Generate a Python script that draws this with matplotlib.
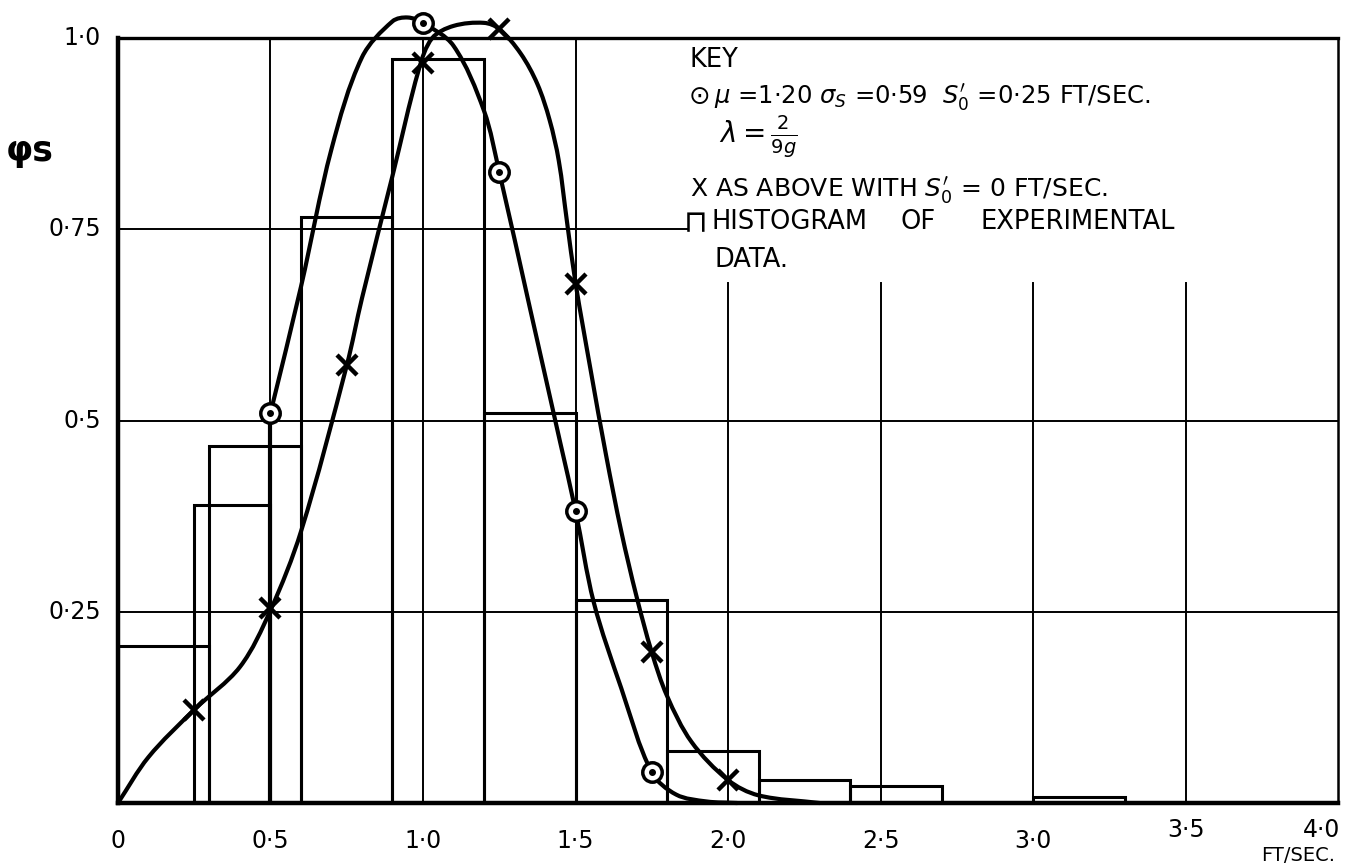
import matplotlib
matplotlib.use("Agg")
import numpy as np
import matplotlib.pyplot as plt
from matplotlib.patches import Rectangle, PathPatch
from matplotlib.path import Path

# histogram of experimental data (bin left edge, width, height)
hist_left = [0.0, 0.25, 0.3, 0.6, 0.9, 1.2, 1.5, 1.8, 2.1, 2.4, 3.0]
hist_width = [0.3, 0.25, 0.3, 0.3, 0.3, 0.3, 0.3, 0.3, 0.3, 0.3, 0.3]
hist_height = [0.205, 0.39, 0.467, 0.766, 0.973, 0.51, 0.265, 0.068, 0.03, 0.022, 0.008]

# curve with S0' = 0.25 (circles); it jumps up from zero at 0.5
circ_curve_x = [0.5, 0.6, 0.7, 0.8, 0.9, 0.95, 1.0, 1.1, 1.2, 1.25, 1.35, 1.45, 1.5,
                1.56, 1.65, 1.75, 1.83, 1.93, 2.03]
circ_curve_y = [0.51, 0.675, 0.855, 0.975, 1.022, 1.027, 1.02, 0.99, 0.905, 0.825, 0.648,
                0.471, 0.382, 0.262, 0.15, 0.04, 0.011, 0.002, 0.0]
circ_x = [0.5, 1.0, 1.25, 1.5, 1.75]
circ_y = [0.51, 1.02, 0.825, 0.382, 0.04]

# curve with S0' = 0 (crosses)
cross_curve_x = [0.0, 0.1, 0.25, 0.4, 0.5, 0.6, 0.75, 0.8, 0.9, 0.987, 1.03, 1.1, 1.2, 1.25,
                 1.32, 1.375, 1.415, 1.445, 1.472, 1.5, 1.55, 1.6, 1.65, 1.7, 1.75, 1.8,
                 1.88, 2.0, 2.1, 2.3]
cross_curve_y = [0.0, 0.06, 0.122, 0.178, 0.252, 0.355, 0.572, 0.66, 0.82, 0.96, 1.0, 1.016,
                 1.02, 1.012, 0.98, 0.94, 0.893, 0.84, 0.76, 0.68, 0.565, 0.455, 0.355, 0.27,
                 0.197, 0.14, 0.08, 0.03, 0.01, 0.0]
cross_x = [0.25, 0.5, 0.75, 1.0, 1.25, 1.5, 1.75, 2.0]
cross_y = [0.122, 0.255, 0.573, 0.967, 1.012, 0.678, 0.197, 0.03]

x_ticks = [0, 0.5, 1.0, 1.5, 2.0, 2.5, 3.0, 3.5, 4.0]
x_tick_labels = ["0", "0·5", "1·0", "1·5", "2·0", "2·5", "3·0", "3·5", "4·0"]
y_ticks = [0.25, 0.5, 0.75, 1.0]
y_tick_labels = ["0·25", "0·5", "0·75", "1·0"]


def smooth_path(xs, ys, yscale=2.5):
    # cubic bezier through the read points (chord-length tangents)
    p = np.column_stack([xs, ys]).astype(float)
    q = p * [1.0, yscale]
    d = np.hypot(*np.diff(q, axis=0).T)
    t = np.concatenate([[0], np.cumsum(d)])
    n = len(p)
    m = np.zeros_like(p)
    m[0] = (p[1] - p[0]) / (t[1] - t[0])
    m[-1] = (p[-1] - p[-2]) / (t[-1] - t[-2])
    for i in range(1, n - 1):
        m[i] = (p[i + 1] - p[i - 1]) / (t[i + 1] - t[i - 1])
    verts = [p[0]]
    codes = [Path.MOVETO]
    for i in range(n - 1):
        h = t[i + 1] - t[i]
        verts += [p[i] + m[i] * h / 3, p[i + 1] - m[i + 1] * h / 3, p[i + 1]]
        codes += [Path.CURVE4] * 3
    return Path(verts, codes)


plt.rcParams['font.family'] = ['DejaVu Sans']

fig = plt.figure(figsize=(13.48, 8.67), dpi=100)
ax = fig.add_axes([0.0875, 0.0738, 0.9052, 0.8822])
ax.set_xlim(0, 4.0)
ax.set_ylim(0, 1.0)
ax.set_xticks([])
ax.set_yticks([])
for side in ['left', 'bottom']:
    ax.spines[side].set_linewidth(3.2)
ax.spines['top'].set_linewidth(2.4)
ax.spines['right'].set_linewidth(1.8)

# grid
for gx in [0.5, 1.0, 1.5]:
    ax.plot([gx, gx], [0, 1.0], color='black', lw=1.4)
for gx in [2.0, 2.5, 3.0, 3.5]:
    ax.plot([gx, gx], [0, 0.68], color='black', lw=1.4)
for gy in [0.25, 0.5]:
    ax.plot([0, 4.0], [gy, gy], color='black', lw=1.4)
ax.plot([0, 1.87], [0.75, 0.75], color='black', lw=1.4)

# histogram
for l, w, h in zip(hist_left, hist_width, hist_height):
    ax.add_patch(Rectangle((l, 0), w, h, fill=False, ec='black', lw=2.2))

# curves
ax.plot([circ_curve_x[0], circ_curve_x[0]], [0, circ_curve_y[0]], color='black', lw=3.0)
for cx, cy in [(circ_curve_x, circ_curve_y), (cross_curve_x, cross_curve_y)]:
    ax.add_patch(PathPatch(smooth_path(cx, cy), fill=False, ec='black', lw=3.0,
                           clip_on=False, zorder=3, capstyle='round'))
ax.plot(circ_x, circ_y, 'o', ms=14, mfc='white', mec='black', mew=2.5, clip_on=False, zorder=4)
ax.plot(circ_x, circ_y, 'o', ms=4, color='black', clip_on=False, zorder=5)
ax.plot(cross_x, cross_y, 'x', ms=15, mec='black', mew=3.2, clip_on=False, zorder=4)

# tick labels
for xv, lab in zip(x_ticks, x_tick_labels):
    yy = -0.035 if xv >= 3.5 else -0.05
    xx = xv - 0.055 if xv == 4.0 else xv
    ax.text(xx, yy, lab, ha='center', va='center', fontsize=17, clip_on=False)
ax.text(3.87, -0.068, "FT/SEC.", ha='center', va='center', fontsize=14, clip_on=False)
for yv, lab in zip(y_ticks, y_tick_labels):
    ax.text(-0.055, yv, lab, ha='right', va='center', fontsize=17, clip_on=False)
ax.text(-0.29, 0.852, "φs", ha='center', va='center', fontsize=25, fontweight='bold',
        clip_on=False)

# key
fs = 18.5
ax.text(1.875, 0.971, "KEY", ha='left', va='center', fontsize=fs)
ax.text(1.87, 0.923, "⊙", ha='left', va='center', fontsize=fs)
ax.text(1.955, 0.923, r"$\mu$ =1·20 $\sigma_S$ =0·59  $S_0'$ =0·25 FT/SEC.",
        ha='left', va='center', fontsize=17.5)
ax.text(1.97, 0.872, r"$\lambda = \frac{2}{9g}$", ha='left', va='center', fontsize=20)
ax.text(1.875, 0.801, r"X AS ABOVE WITH $S_0'$ = 0 FT/SEC.", ha='left', va='center', fontsize=18)
ax.text(1.855, 0.757, "⊓", ha='left', va='center', fontsize=22)
ax.text(1.945, 0.76, "HISTOGRAM", ha='left', va='center', fontsize=fs)
ax.text(2.564, 0.76, "OF", ha='left', va='center', fontsize=fs)
ax.text(2.826, 0.76, "EXPERIMENTAL", ha='left', va='center', fontsize=fs)
ax.text(1.955, 0.71, "DATA.", ha='left', va='center', fontsize=fs)

fig.savefig("out.png", dpi=100)
